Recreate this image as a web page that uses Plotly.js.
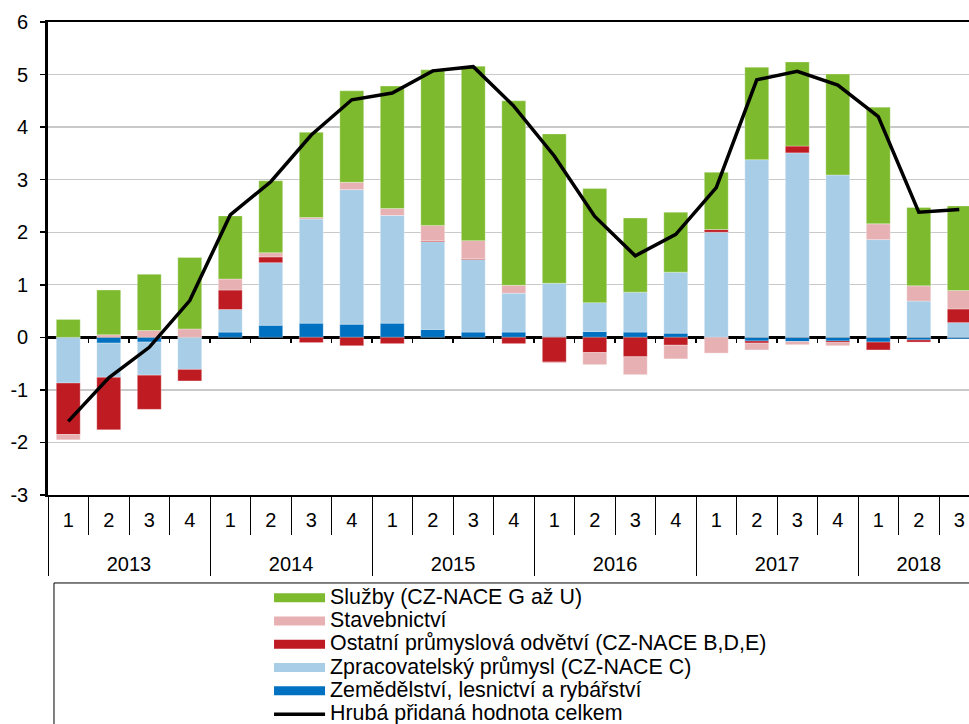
<!DOCTYPE html>
<html><head><meta charset="utf-8">
<script src="https://cdn.plot.ly/plotly-3.0.1.min.js"></script>
<style>html,body{margin:0;padding:0;background:#fff}#chart{width:969px;height:724px}</style>
</head><body><div id="chart"></div>
<script>
const years = ['2013','2013','2013','2013','2014','2014','2014','2014','2015','2015','2015','2015','2016','2016','2016','2016','2017','2017','2017','2017','2018','2018','2018'];
const quarters = ['1','2','3','4','1','2','3','4','1','2','3','4','1','2','3','4','1','2','3','4','1','2','3'];
const yTickVals = [-3, -2, -1, 0, 1, 2, 3, 4, 5, 6];
const yTickText = ['-3', '-2', '-1', '0', '1', '2', '3', '4', '5', '6'];

const seriesNames = ['Služby (CZ-NACE G až U)','Stavebnictví','Ostatní průmyslová odvětví (CZ-NACE B,D,E)','Zpracovatelský průmysl (CZ-NACE C)','Zemědělství, lesnictví a rybářství','Hrubá přidaná hodnota celkem'];
const seriesColors = ['#7DBA2D', '#E7B0B3', '#BE1B23', '#A7CDE7', '#0070C0', '#000000'];

const zemedelstvi = [0, -0.11, -0.09, 0, 0.10, 0.23, 0.27, 0.25, 0.27, 0.15, 0.10, 0.10, 0.01, 0.11, 0.10, 0.08, 0, -0.07, -0.08, -0.07, -0.09, -0.05, -0.03];
const zpracovatelsky = [-0.87, -0.65, -0.63, -0.61, 0.43, 1.19, 1.98, 2.56, 2.05, 1.67, 1.38, 0.74, 1.02, 0.55, 0.76, 1.16, 2.00, 3.38, 3.51, 3.09, 1.86, 0.69, 0.28];
const ostatniPrumysl = [-0.98, -1.00, -0.65, -0.22, 0.37, 0.11, -0.10, -0.16, -0.12, 0.02, 0.02, -0.12, -0.47, -0.29, -0.37, -0.15, 0.05, -0.04, 0.13, -0.03, -0.15, -0.04, 0.26];
const stavebnictvi = [-0.10, 0.05, 0.13, 0.16, 0.21, 0.08, 0.03, 0.14, 0.13, 0.29, 0.34, 0.15, -0.02, -0.23, -0.34, -0.26, -0.30, -0.13, -0.06, -0.06, 0.30, 0.29, 0.35];
const sluzby = [0.34, 0.85, 1.07, 1.36, 1.20, 1.37, 1.62, 1.74, 2.33, 2.96, 3.32, 3.51, 2.84, 2.17, 1.41, 1.14, 1.09, 1.76, 1.60, 1.92, 2.22, 1.49, 1.61];
const hpcCelkem = [-1.60, -0.77, -0.19, 0.70, 2.33, 2.96, 3.85, 4.52, 4.65, 5.07, 5.15, 4.40, 3.45, 2.30, 1.55, 1.96, 2.85, 4.90, 5.06, 4.80, 4.20, 2.38, 2.43];

// inner labels get an empty second line so the year row sits lower, as in the reference
const quarterLabels = quarters.map(q => q + '<br>\u00a0');
const x = [years, quarterLabels];
const legendLabel = n => '<span style="font-size:21.4px">' + n + '</span>';
function bar(vals, i){
  return {type:'bar', x:x, y:vals, name:seriesNames[i], showlegend:false,
    marker:{color:seriesColors[i], line:{color:'rgba(255,255,255,0.5)', width:0.6}}};
}
function legendSwatch(i){
  return {type:'scatter', mode:'lines', xaxis:'x2', x:[0], y:[null], name:legendLabel(seriesNames[i]), legendrank:i+1,
    line:{color:seriesColors[i], width:9}, hoverinfo:'skip'};
}
const boundaries = quarters.map((q, i) => i + 0.5);
const data = [
  {type:'scatter', mode:'lines', x:x, y:hpcCelkem, name:legendLabel(seriesNames[5]), legendrank:6,
   line:{color:seriesColors[5], width:3.5}},
  bar(zemedelstvi, 4),
  bar(zpracovatelsky, 3),
  bar(ostatniPrumysl, 2),
  bar(stavebnictvi, 1),
  bar(sluzby, 0),
  legendSwatch(0), legendSwatch(1), legendSwatch(2), legendSwatch(3), legendSwatch(4)
];
const layout = {
  width:969, height:724,
  margin:{l:48, r:0, t:22, b:229, autoexpand:false},
  paper_bgcolor:'#fff', plot_bgcolor:'#fff',
  barmode:'relative', bargap:0.41,
  font:{family:'"Liberation Sans", Arial, sans-serif', size:20, color:'#000'},
  xaxis:{type:'multicategory', range:[-0.5, 22.24], showline:true, linecolor:'#000', linewidth:2, mirror:true,
    ticks:'outside', ticklen:38, tickcolor:'#000', tickwidth:1, ticklabelstandoff:6,
    showdividers:true, dividercolor:'#000', dividerwidth:1, showgrid:false, zeroline:false,
    tickfont:{size:20}},
  xaxis2:{overlaying:'x', anchor:'free', position:1/3, side:'bottom', range:[-0.5, 22.24],
    tickmode:'array', tickvals:boundaries, showticklabels:false, ticks:'outside', ticklen:5,
    tickcolor:'#000', tickwidth:1.5, showgrid:false, zeroline:false, showline:false},
  yaxis:{range:[-3,6], tickmode:'array', tickvals:yTickVals, ticktext:yTickText, showline:true, linecolor:'#000', linewidth:2.8,
    ticks:'outside', ticklen:5, tickcolor:'#000', tickwidth:1.5, ticklabelstandoff:8,
    gridcolor:'#c9c9c9', gridwidth:1.3, zeroline:true, zerolinecolor:'#000', zerolinewidth:2.8,
    tickfont:{size:20}},
  showlegend:true,
  legend:{x:0.240, xanchor:'left', y:-0.182, yanchor:'top', bgcolor:'rgba(0,0,0,0)', borderwidth:0,
    font:{size:15.6}, traceorder:'normal', itemwidth:51},
  shapes:[{type:'rect', xref:'paper', yref:'paper', x0:0.0065, x1:1.05, y0:-0.6, y1:-0.186,
    line:{color:'#000', width:1}, fillcolor:'rgba(0,0,0,0)', layer:'below'}]
};
Plotly.newPlot('chart', data, layout, {displayModeBar:false, staticPlot:true});
</script></body></html>
